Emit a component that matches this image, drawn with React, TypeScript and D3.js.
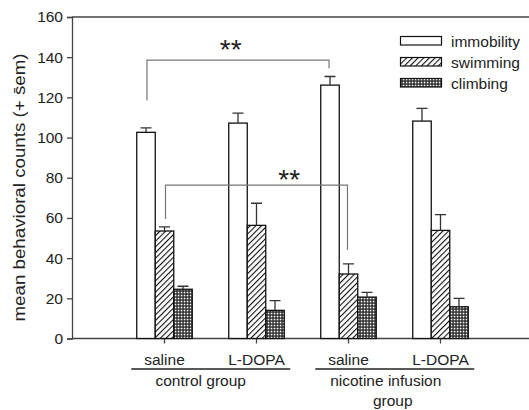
import React, { Component } from 'react';
import * as d3 from 'd3';

const groups = ['saline', 'L-DOPA', 'saline', 'L-DOPA'];
const seriesNames = ['immobility', 'swimming', 'climbing'];
const immobility = [102.6, 107.2, 126.1, 108.2];
const immobilitySem = [2.2, 5.0, 4.3, 6.3];
const swimming = [53.5, 56.3, 32.1, 53.8];
const swimmingSem = [2.1, 11.0, 5.0, 7.8];
const climbing = [24.5, 14.0, 20.6, 15.8];
const climbingSem = [1.5, 4.8, 2.4, 4.2];
const yTicks = [0, 20, 40, 60, 80, 100, 120, 140, 160];
const groupLabels = [
  { lines: ['control group'], from: 0, to: 1 },
  { lines: ['nicotine infusion', 'group'], from: 2, to: 3 },
];
// significance brackets: series index, groups compared, level, stem ends, star position
const brackets = [
  { s: 0, g1: 0, g2: 2, level: 138.5, end1: 118.5, end2: 134.5, starAt: 0.46, starY: 147.2 },
  { s: 1, g1: 0, g2: 2, level: 76.3, end1: 59.5, end2: 44, starAt: 0.68, starY: 82.4 },
];

class App extends Component {
  myRef = React.createRef<HTMLDivElement>();

  componentDidMount() {
    this.drawChart();
  }

  drawChart() {
    const w = 529;
    const h = 410;
    const font = '"Liberation Sans", Arial, sans-serif';

    d3.select(this.myRef.current).selectAll('*').remove();

    const svg = d3.select(this.myRef.current)
      .append('svg')
      .attr('width', w)
      .attr('height', h)
      .style('position', 'absolute')
      .style('left', 0)
      .style('top', 0)
      .style('background', '#fff');

    const defs = svg.append('defs');
    const hatch = defs.append('pattern')
      .attr('id', 'hatch')
      .attr('patternUnits', 'userSpaceOnUse')
      .attr('width', 4).attr('height', 4)
      .attr('patternTransform', 'rotate(45)');
    hatch.append('rect').attr('width', 4).attr('height', 4).attr('fill', '#fff');
    hatch.append('line').attr('x1', 0).attr('y1', 0).attr('x2', 0).attr('y2', 4)
      .attr('stroke', '#111').attr('stroke-width', 2.2);

    const check = defs.append('pattern')
      .attr('id', 'check')
      .attr('patternUnits', 'userSpaceOnUse')
      .attr('width', 3).attr('height', 3);
    check.append('rect').attr('width', 3).attr('height', 3).attr('fill', '#222');
    check.append('rect').attr('x', 0.7).attr('y', 0.7).attr('width', 1.7).attr('height', 1.7).attr('fill', '#fff');

    const fills = ['#fff', 'url(#hatch)', 'url(#check)'];
    const values = [immobility, swimming, climbing];
    const sems = [immobilitySem, swimmingSem, climbingSem];

    const y = d3.scaleLinear().domain([0, 160]).range([338.5, 17]);
    const x = d3.scaleBand<number>().domain(d3.range(groups.length)).range([118.5, 486.5]);
    const barW = 18.5;
    const cx = (g: number) => (x(g) as number) + x.bandwidth() / 2;
    const barX = (g: number, s: number) => cx(g) + (s - 1.5) * barW;

    // frame lines
    svg.append('line').attr('x1', 72).attr('x2', w).attr('y1', y(160)).attr('y2', y(160))
      .attr('stroke', '#444').attr('stroke-width', 1.3);
    svg.append('line').attr('x1', 72).attr('x2', w).attr('y1', y(0)).attr('y2', y(0))
      .attr('stroke', '#444').attr('stroke-width', 1.3);

    const yAxis = svg.append('g').attr('transform', 'translate(72,0)')
      .call(d3.axisLeft(y).tickValues(yTicks).tickSize(5).tickPadding(4));
    yAxis.select('.domain').attr('stroke', '#444').attr('stroke-width', 1.3);
    yAxis.selectAll('.tick line').attr('stroke', '#444').attr('stroke-width', 1.3);
    yAxis.selectAll('.tick text').attr('font-family', font).attr('font-size', 15.5).attr('fill', '#222');

    // x ticks
    svg.selectAll('.xtick').data(groups).enter().append('line')
      .attr('x1', (d, i) => cx(i)).attr('x2', (d, i) => cx(i))
      .attr('y1', y(0)).attr('y2', y(0) + 5)
      .attr('stroke', '#444').attr('stroke-width', 1.3);

    svg.selectAll('.xlabel').data(groups).enter().append('text')
      .attr('x', (d, i) => cx(i)).attr('y', 365)
      .attr('text-anchor', 'middle')
      .attr('font-family', font).attr('font-size', 15.5).attr('fill', '#222')
      .text(d => d);

    groupLabels.forEach((gl, k) => {
      const left = barX(gl.from, 0) - 5.5;
      const right = barX(gl.to, 3) + 6;
      svg.append('line').attr('x1', left).attr('x2', right).attr('y1', 369).attr('y2', 369)
        .attr('stroke', '#222').attr('stroke-width', 1.5);
      const mid = (left + right) / 2 - (k === 0 ? 10 : 9);
      gl.lines.forEach((t, j) => {
        svg.append('text')
          .attr('x', mid + (j > 0 ? 7 : 0)).attr('y', 386 + j * 19.5)
          .attr('text-anchor', 'middle')
          .attr('font-family', font).attr('font-size', 15.5).attr('fill', '#222')
          .text(t);
      });
    });

    // bars
    seriesNames.forEach((name, s) => {
      const g = svg.append('g');
      g.selectAll('rect').data(values[s]).enter().append('rect')
        .attr('x', (d, i) => barX(i, s))
        .attr('y', d => y(d))
        .attr('width', barW)
        .attr('height', d => y(0) - y(d))
        .attr('fill', fills[s])
        .attr('stroke', '#111').attr('stroke-width', 1.3);
      g.selectAll('.err').data(values[s]).enter().append('path')
        .attr('d', (d, i) => {
          const c = barX(i, s) + barW / 2;
          const top = y(d + sems[s][i]);
          return `M${c},${y(d)}V${top}M${c - 5.5},${top}H${c + 5.5}`;
        })
        .attr('fill', 'none').attr('stroke', '#333').attr('stroke-width', 1.3);
    });

    // significance brackets
    brackets.forEach(b => {
      const x1 = barX(b.g1, b.s) + barW / 2 + 1;
      const x2 = barX(b.g2, b.s) + barW / 2 - 1;
      svg.append('path')
        .attr('d', `M${x1},${y(b.end1)}V${y(b.level)}H${x2}V${y(b.end2)}`)
        .attr('fill', 'none').attr('stroke', '#777').attr('stroke-width', 1.2);
      svg.append('text')
        .attr('x', x1 + (x2 - x1) * b.starAt).attr('y', y(b.starY) + 16)
        .attr('text-anchor', 'middle')
        .attr('font-family', font).attr('font-size', 28).attr('fill', '#222')
        .text('**');
    });

    // legend
    const legend = svg.append('g');
    seriesNames.forEach((name, s) => {
      const ly = 41 + s * 21;
      legend.append('rect').attr('x', 400.5).attr('y', ly - 4.5).attr('width', 41).attr('height', 8.5)
        .attr('fill', fills[s]).attr('stroke', '#111').attr('stroke-width', 1.2);
      legend.append('text').attr('x', 451).attr('y', ly + 5.5)
        .attr('font-family', font).attr('font-size', 15.5).attr('fill', '#222')
        .text(name);
    });

    // y label
    svg.append('text')
      .attr('transform', `translate(25,187.5) rotate(-90)`)
      .attr('text-anchor', 'middle')
      .attr('font-family', font).attr('font-size', 16).attr('fill', '#222')
      .attr('textLength', 268).attr('lengthAdjust', 'spacingAndGlyphs')
      .text('mean behavioral counts (+ s\u0304em)');
  }

  render() {
    return <div ref={this.myRef}></div>;
  }
}

export default App;
